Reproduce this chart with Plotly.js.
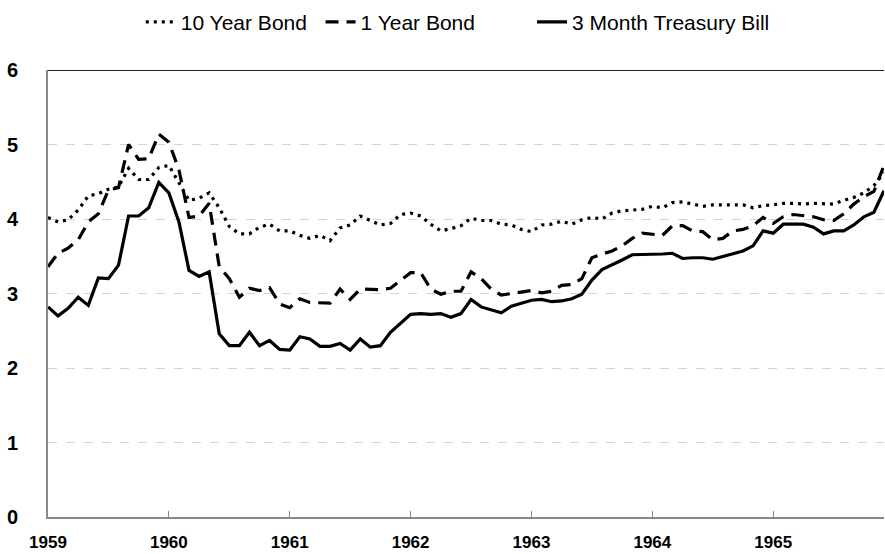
<!DOCTYPE html>
<html>
<head>
<meta charset="utf-8">
<script src="https://cdn.plot.ly/plotly-3.0.1.min.js"></script>
<style>
  html, body { margin: 0; padding: 0; background: #ffffff; }
  #chart { width: 885px; height: 554px; }
</style>
</head>
<body>
<div id="chart"></div>
<script>
// Monthly observations, Jan 1959 – Dec 1965
const years = ["1959", "1960", "1961", "1962", "1963", "1964", "1965"];

const tenYearBond = [
  4.02, 3.96, 3.99, 4.12, 4.31, 4.34, 4.40, 4.43, 4.68, 4.53, 4.53, 4.69,
  4.72, 4.49, 4.25, 4.28, 4.35, 4.15, 3.90, 3.80, 3.80, 3.89, 3.93, 3.84,
  3.84, 3.78, 3.74, 3.78, 3.71, 3.88, 3.92, 4.04, 3.98, 3.92, 3.94, 4.06,
  4.08, 4.04, 3.93, 3.84, 3.87, 3.91, 4.01, 3.98, 3.98, 3.93, 3.92, 3.86,
  3.83, 3.92, 3.93, 3.97, 3.93, 3.99, 4.02, 4.00, 4.08, 4.11, 4.12, 4.13,
  4.17, 4.15, 4.22, 4.23, 4.20, 4.17, 4.19, 4.19, 4.20, 4.19, 4.15, 4.18,
  4.19, 4.21, 4.21, 4.20, 4.21, 4.21, 4.20, 4.25, 4.29, 4.35, 4.45, 4.62
];

const oneYearBond = [
  3.36, 3.54, 3.61, 3.72, 3.96, 4.07, 4.39, 4.42, 5.00, 4.80, 4.81, 5.14,
  5.03, 4.66, 4.02, 4.04, 4.21, 3.36, 3.20, 2.95, 3.07, 3.04, 3.08, 2.86,
  2.81, 2.93, 2.88, 2.88, 2.87, 3.06, 2.92, 3.06, 3.06, 3.05, 3.07, 3.18,
  3.28, 3.28, 3.06, 2.99, 3.03, 3.03, 3.29, 3.20, 3.06, 2.98, 3.00, 3.01,
  3.04, 3.01, 3.03, 3.11, 3.12, 3.20, 3.48, 3.53, 3.57, 3.64, 3.74, 3.81,
  3.79, 3.78, 3.91, 3.91, 3.84, 3.83, 3.72, 3.74, 3.84, 3.86, 3.91, 4.02,
  3.94, 4.03, 4.06, 4.04, 4.03, 3.99, 3.98, 4.07, 4.20, 4.30, 4.37, 4.72
];

const threeMonthBill = [
  2.82, 2.70, 2.80, 2.95, 2.84, 3.21, 3.20, 3.38, 4.04, 4.04, 4.15, 4.49,
  4.35, 3.96, 3.31, 3.23, 3.29, 2.46, 2.30, 2.30, 2.48, 2.30, 2.37, 2.25,
  2.24, 2.42, 2.39, 2.29, 2.29, 2.33, 2.24, 2.39, 2.28, 2.30, 2.48, 2.60,
  2.72, 2.73, 2.72, 2.73, 2.68, 2.73, 2.92, 2.82, 2.78, 2.74, 2.83, 2.87,
  2.91, 2.92, 2.89, 2.90, 2.93, 2.99, 3.18, 3.32, 3.38, 3.45, 3.52, 3.52,
  3.52, 3.53, 3.54, 3.47, 3.48, 3.48, 3.46, 3.50, 3.53, 3.57, 3.64, 3.84,
  3.81, 3.93, 3.93, 3.93, 3.89, 3.80, 3.84, 3.84, 3.92, 4.03, 4.09, 4.38
];

const seriesNames = ["10 Year Bond", "1 Year Bond", "3 Month Treasury Bill"];

// month category labels built from the year list
const months = [];
years.forEach(y => { for (let m = 1; m <= 12; m++) months.push(y + "-" + String(m).padStart(2, "0")); });
const yearTicks = years.map(y => y + "-01");

const font = "'Liberation Sans', Arial, sans-serif";

const traces = [
  { x: months, y: tenYearBond, name: seriesNames[0], type: "scatter", mode: "lines", legend: "legend",
    line: { color: "#000000", width: 3.2, dash: "3px,5px" } },
  { x: months, y: oneYearBond, name: seriesNames[1], type: "scatter", mode: "lines", legend: "legend2",
    line: { color: "#000000", width: 3.2, dash: "13px,8px" } },
  { x: months, y: threeMonthBill, name: seriesNames[2], type: "scatter", mode: "lines", legend: "legend3",
    line: { color: "#000000", width: 3.2 } }
];

function legendAt(xPaper) {
  return {
    orientation: "h", x: xPaper, xanchor: "left", y: 1.107, yanchor: "middle",
    font: { family: font, size: 21, color: "#000000" },
    itemwidth: 30, bgcolor: "rgba(0,0,0,0)"
  };
}

const layout = {
  width: 885, height: 554,
  margin: { l: 48, r: 1, t: 70, b: 37 },
  paper_bgcolor: "#ffffff", plot_bgcolor: "#ffffff",
  font: { family: font, color: "#000000" },
  showlegend: true,
  legend: legendAt(0.111),
  legend2: legendAt(0.326),
  legend3: legendAt(0.579),
  xaxis: {
    type: "category",
    range: [0, 83],
    tickmode: "array", tickvals: yearTicks, ticktext: years,
    ticks: "inside", ticklen: 6, tickcolor: "#888888", tickwidth: 1,
    showgrid: false, zeroline: false,
    showline: true, linecolor: "#888888", linewidth: 2,
    tickfont: { family: font, size: 17, color: "#000000", weight: "bold" },
    ticklabelstandoff: 9
  },
  yaxis: {
    range: [0, 6], tickvals: [0, 1, 2, 3, 4, 5, 6], ticktext: ["0","1","2","3","4","5","6"],
    ticks: "", showline: true, linecolor: "#888888", linewidth: 2,
    showgrid: true, gridcolor: "#d4d4d4", gridwidth: 1, griddash: "dash",
    zeroline: false,
    tickfont: { family: font, size: 20, color: "#000000", weight: "bold" },
    ticklabelstandoff: 24
  },
  shapes: [
    { type: "line", xref: "paper", yref: "y", x0: 0, x1: 1, y0: 6, y1: 6,
      line: { color: "#222222", width: 2 } }
  ]
};

Plotly.newPlot("chart", traces, layout, { displayModeBar: false, staticPlot: true });
</script>
</body>
</html>
